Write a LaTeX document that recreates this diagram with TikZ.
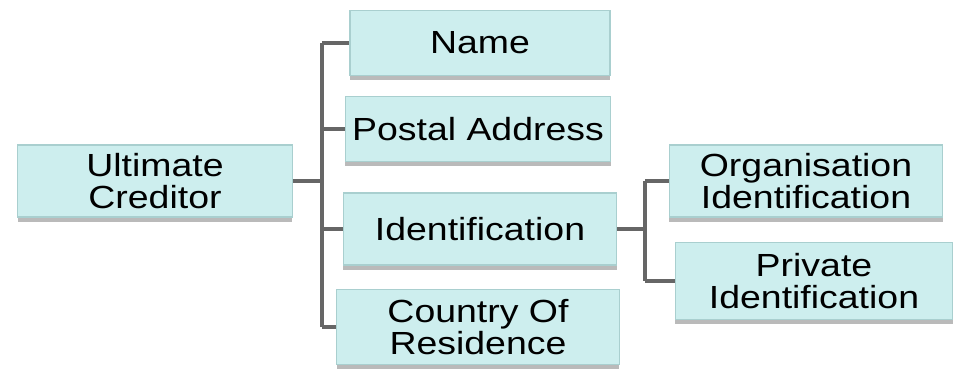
\documentclass[tikz,border=0pt]{standalone}
\usepackage{fontspec}
\setmainfont[FakeStretch=1.17]{Liberation Sans}
\usetikzlibrary{shadows}
\definecolor{boxfill}{HTML}{CDEEEE}
\definecolor{boxedge}{HTML}{A9CFCF}
\definecolor{conncol}{HTML}{666666}
\tikzset{
  itembox/.style={rectangle, fill=boxfill, draw=boxedge, line width=0.8pt,
    align=center, inner sep=0pt, font=\fontsize{24}{24.5}\selectfont,
    drop shadow={shadow xshift=0pt, shadow yshift=-3.5pt, opacity=0.45, fill=black!60}},
  conn/.style={draw=conncol, line width=2.4pt}
}
\begin{document}
\begin{tikzpicture}[x=0.75pt,y=-0.75pt]
\useasboundingbox (0,0) rectangle (964,373);
\node[itembox, minimum width=206pt, minimum height=54pt] (ult) at (155,181) {Ultimate\\Creditor};
\node[itembox, minimum width=195pt, minimum height=49pt] (name) at (480,43) {Name};
\node[itembox, minimum width=199pt, minimum height=49pt] (postal) at (478,129) {Postal Address};
\node[itembox, minimum width=205pt, minimum height=54pt] (ident) at (480,229) {Identification};
\node[itembox, minimum width=212pt, minimum height=56pt] (country) at (478,327) {Country Of\\Residence};
\node[itembox, minimum width=205pt, minimum height=54pt] (org) at (806,181) {Organisation\\Identification};
\node[itembox, minimum width=208pt, minimum height=58pt] (priv) at (814,281) {Private\\Identification};
\coordinate (j1) at (322,181);
\coordinate (j2) at (645,229);
\draw[conn] (ult.east) -- (j1);
\draw[conn] (j1 |- name.west) -- (j1 |- country.west);
\draw[conn] (j1 |- name.west) -- (name.west);
\draw[conn] (j1 |- postal.west) -- (postal.west);
\draw[conn] (j1 |- ident.west) -- (ident.west);
\draw[conn] (j1 |- country.west) -- (country.west);
\draw[conn] (ident.east) -- (j2);
\draw[conn] (j2 |- org.west) -- (j2 |- priv.west);
\draw[conn] (j2 |- org.west) -- (org.west);
\draw[conn] (j2 |- priv.west) -- (priv.west);
\end{tikzpicture}
\end{document}
